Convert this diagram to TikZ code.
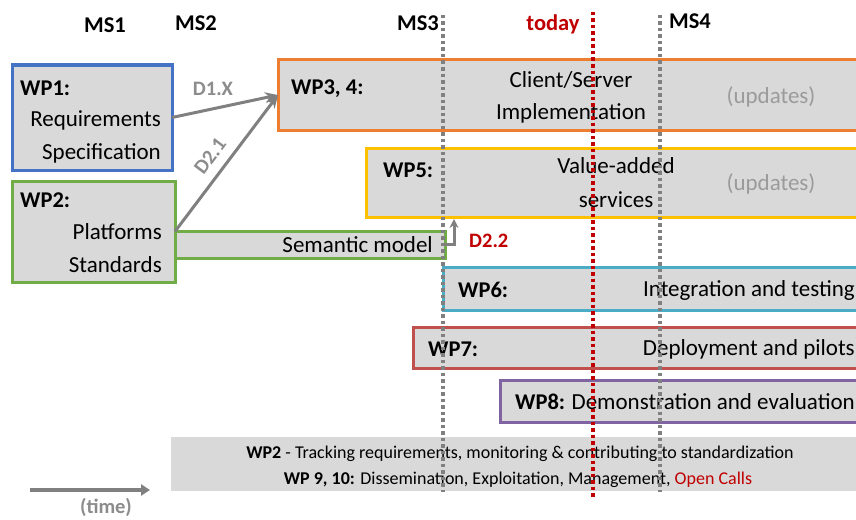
\documentclass[tikz,border=0pt]{standalone}
\usepackage{fontspec}
\setmainfont{Carlito}
\usetikzlibrary{arrows.meta}
\definecolor{boxfill}{RGB}{217,217,217}
\definecolor{cblue}{RGB}{68,114,196}
\definecolor{cgreen}{RGB}{112,173,71}
\definecolor{corange}{RGB}{237,125,49}
\definecolor{cyellow}{RGB}{255,192,0}
\definecolor{ccyan}{RGB}{75,172,198}
\definecolor{cred}{RGB}{192,80,77}
\definecolor{cpurple}{RGB}{128,100,162}
\definecolor{darkred}{RGB}{192,0,0}
\definecolor{arrgray}{RGB}{128,128,128}
\definecolor{lblgray}{RGB}{140,140,140}
\definecolor{updgray}{RGB}{155,155,155}
\begin{document}
\begin{tikzpicture}[x=1pt,y=-1pt,
  wpbox/.style={rectangle, line width=3pt, fill=boxfill, inner sep=0pt, outer sep=0pt},
  txt/.style={inner sep=0pt, font=\fontsize{23}{27}\selectfont},
  bld/.style={inner sep=0pt, font=\fontsize{22.5}{27}\selectfont\bfseries},
  lbl/.style={inner sep=0pt, text=lblgray, font=\fontsize{20.5}{24}\selectfont\bfseries},
  small/.style={inner sep=0pt, font=\fontsize{18}{21}\selectfont},
  msline/.style={arrgray, line width=3.5pt, dash pattern=on 3.5pt off 3pt},
  todayline/.style={darkred, line width=3.5pt, dash pattern=on 3.5pt off 3pt},
  conn/.style={arrgray, line width=3pt, -{Stealth[length=13pt,width=11pt]}},
]
\useasboundingbox (0,0) rectangle (856,519);
\clip (0,0) rectangle (856,519);
\fill[white] (0,0) rectangle (856,519);

% milestone labels
\node[bld, anchor=base] (ms1) at (105,33) {MS1};
\node[bld, anchor=base] (ms2) at (196,31) {MS2};
\node[bld, anchor=base] (ms3) at (418,31) {MS3};
\node[bld, anchor=base, text=darkred] (today) at (553,31) {today};
\node[bld, anchor=base] (ms4) at (690,29) {MS4};

% boxes
\node[wpbox, draw=cgreen, minimum width=270pt, minimum height=27pt] (sem) at (310,244.5) {};
\node[wpbox, draw=cblue, minimum width=160pt, minimum height=105pt] (wp1) at (92,117.5) {};
\node[wpbox, draw=cgreen, minimum width=163pt, minimum height=101pt] (wp2) at (93.5,231.5) {};
\node[wpbox, draw=corange, minimum width=592pt, minimum height=70pt] (wp3) at (574,95) {};
\node[wpbox, draw=cyellow, minimum width=504pt, minimum height=69pt] (wp5) at (618,182.5) {};
\node[wpbox, draw=ccyan, minimum width=427pt, minimum height=43pt] (wp6) at (656.5,288.5) {};
\node[wpbox, draw=cred, minimum width=457pt, minimum height=41pt] (wp7) at (641.5,347.5) {};
\node[wpbox, draw=cpurple, minimum width=370pt, minimum height=42pt] (wp8) at (685,401) {};
\node[rectangle, fill=boxfill, inner sep=0pt, minimum width=685pt, minimum height=54pt] (bot) at (513.5,464) {};

% box texts
\node[bld, anchor=base west] (wp1t) at (20,95) {WP1:};
\node[txt, anchor=base east] (wp1a) at (161,126) {Requirements};
\node[txt, anchor=base east] (wp1b) at (161,159) {Specification};
\node[bld, anchor=base west] (wp2t) at (20,207) {WP2:};
\node[txt, anchor=base east] (wp2a) at (162,239) {Platforms};
\node[txt, anchor=base east] (wp2b) at (162,272) {Standards};
\node[txt, anchor=base east] (semt) at (433,252) {Semantic model};
\node[bld, anchor=base west] (wp3t) at (291,94) {WP3, 4:};
\node[txt, anchor=base] (wp3a) at (571,87) {Client/Server};
\node[txt, anchor=base] (wp3b) at (571,119) {Implementation};
\node[txt, anchor=base, text=updgray] (wp3u) at (771,103) {(updates)};
\node[bld, anchor=base west] (wp5t) at (383,177) {WP5:};
\node[txt, anchor=base] (wp5a) at (616,173) {Value-added};
\node[txt, anchor=base] (wp5b) at (616,207) {services};
\node[txt, anchor=base, text=updgray] (wp5u) at (771,190) {(updates)};
\node[bld, anchor=base west] (wp6t) at (458,297) {WP6:};
\node[txt, anchor=base east] (wp6a) at (855,296) {Integration and testing};
\node[bld, anchor=base west] (wp7t) at (428,356) {WP7:};
\node[txt, anchor=base east] (wp7a) at (855,355) {Deployment and pilots};
\node[bld, anchor=base west] (wp8t) at (515,409) {WP8:};
\node[txt, anchor=base east] (wp8a) at (855,409) {Demonstration and evaluation};
\node[small, anchor=base] (bot1) at (520,458) {\textbf{WP2} - Tracking requirements, monitoring \& contributing to standardization};
\node[small, anchor=base] (bot2) at (518,484) {\textbf{WP 9, 10:} Dissemination, Exploitation, Management, \textcolor{darkred}{Open Calls}};

% connectors
\draw[conn] (wp1.east) -- (wp3.west);
\draw[conn] (wp2.east) -- (wp3.west);
\coordinate (d22) at (454,219);
\draw[arrgray, line width=3pt, -{Stealth[length=9pt,width=9pt]}] (sem.east) -| (d22);
\node[lbl, anchor=base] (d1x) at (213,95) {D1.X};
\node[lbl, anchor=center, rotate=53] (d21) at (210,156) {D2.1};
\node[lbl, anchor=base west, text=darkred] (d22t) at (469,247) {D2.2};

% time arrow
\coordinate (t0) at (30,490);
\coordinate (t1) at (150,490);
\draw[arrgray, line width=3.5pt, -{Triangle[length=9pt,width=11pt]}] (t0) -- (t1);
\node[lbl, anchor=base] (time) at (106,513) {(time)};

% milestone lines
\coordinate (l3a) at (443,15); \coordinate (l3b) at (443,492);
\coordinate (lta) at (593,12); \coordinate (ltb) at (593,497);
\coordinate (l4a) at (660,15); \coordinate (l4b) at (660,492);
\draw[msline] (l3a) -- (l3b);
\draw[todayline] (lta) -- (ltb);
\draw[msline] (l4a) -- (l4b);
\end{tikzpicture}
\end{document}
